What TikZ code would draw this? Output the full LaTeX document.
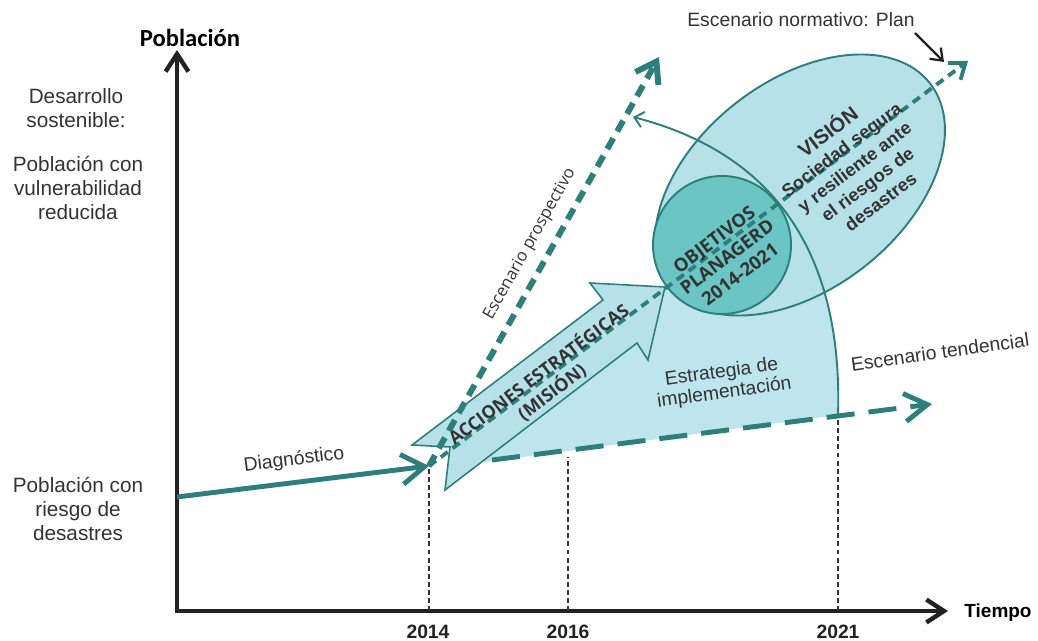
\documentclass[tikz,border=0pt]{standalone}
\usepackage{fontspec}
\setmainfont{Liberation Sans}
\newfontfamily\osans{Open Sans}
\newfontfamily\carl{Carlito}
\usetikzlibrary{arrows.meta}
\definecolor{tealline}{HTML}{2E7F7C}
\definecolor{lblue}{HTML}{B6E1E9}
\definecolor{lblueb}{HTML}{BEE5ED}
\definecolor{cteal}{HTML}{6CC5C5}
\definecolor{tgray}{HTML}{333333}
\definecolor{dgray}{HTML}{222222}
\begin{document}
\begin{tikzpicture}[x=0.02cm,y=-0.02cm,
 every node/.style={inner sep=0pt, text=tgray},
 lab/.style={font=\fontsize{11.8}{13.6}\selectfont, align=center},
 lab2/.style={font=\fontsize{11}{11.6}\selectfont, align=center},
 yearlab/.style={font=\bfseries\fontsize{11}{13}\selectfont, text=dgray},
 axisln/.style={draw=dgray, line width=2.5pt, -{Straight Barb[length=10pt,width=13pt]}},
 guide/.style={draw=tgray, line width=1.5pt, dash pattern=on 2.8pt off 1.8pt},
 diagln/.style={draw=tealline, line width=2.8pt, -{Straight Barb[length=13pt,width=17pt]}},
 prosp/.style={draw=tealline, line width=3.4pt, dash pattern=on 7pt off 4.5pt, -{Straight Barb[length=11pt,width=15pt]}},
 normln/.style={draw=tealline, line width=2.2pt, dash pattern=on 5pt off 3.4pt, -{Straight Barb[length=8pt,width=12pt]}},
 tendln/.style={draw=tealline, line width=2.8pt, dash pattern=on 16pt off 8pt, -{Straight Barb[length=13pt,width=16pt]}},
 thinarrow/.style={draw=tealline, line width=1.1pt, -{Straight Barb[length=5pt,width=9pt]}},
 blackarrow/.style={draw=dgray, line width=1.3pt, -{Straight Barb[length=6pt,width=9pt]}},
 shapeline/.style={draw=tealline, line width=1.1pt},
 arrowblock/.style={fill=lblue, draw=tealline, line width=0.9pt, line join=miter},
]
\fill[white] (0,0) rectangle (1038,641);
\useasboundingbox (0,0) rectangle (1038,641);

% coordinates
\coordinate (orig) at (177,611);
\coordinate (ytip) at (177,50);
\coordinate (xtip) at (948,611);
\coordinate (p14) at (429,466);
\coordinate (b14) at (429,611);
\coordinate (t16) at (568,457);
\coordinate (b16) at (568,611);
\coordinate (t21) at (838,416);
\coordinate (b21) at (838,611);
\coordinate (d0) at (177,497);
\coordinate (tend0) at (492,460);
\coordinate (tend1) at (932,404);
\coordinate (prosE) at (659,57);
\coordinate (normE) at (968,61);
\coordinate (curveE) at (633,117);
\coordinate (bl0) at (915,33);
\coordinate (bl1) at (944,62);

% axes
\draw[axisln] (orig) -- (ytip);
\draw[axisln] ([xshift=-1.25pt]orig) -- (xtip);

% guide lines
\draw[guide] (b14) -- (p14);
\draw[guide] (b16) -- (t16);
\draw[guide] (b21) -- (t21);

% implementation region
\fill[lblueb] (485,462) -- (838,415) .. controls (840.5,337.5) and (826,272.5) .. (792.5,222.25)
  -- (722,245) -- (650,300) -- (470,450) -- cycle;

% tendencial
\draw[tendln] (tend0) -- (tend1);

% vision ellipse and objectives circle
\draw[shapeline, fill=lblue, rotate around={38:(800,185)}] (800,185) ellipse (165 and 104);
\draw[shapeline, fill=cteal] (722,245) circle (69);

% curve arrow
\draw[thinarrow] (t21) .. controls (843,260) and (780,155) .. (curveE);

% acciones arrow
\draw[arrowblock] (412,445) -- (603,300) -- (590,283) -- (665,287) -- (648,360) -- (637,343)
  -- (445,490) -- (450,447) -- cycle;

% diagnostico
\draw[diagln] (d0) -- (p14);

% prospectivo and normativo
\draw[prosp] (p14) -- (prosE);
\draw[normln] (p14) -- (normE);

% black arrow
\draw[blackarrow] (bl0) -- (bl1);

% texts
\node[font=\carl\bfseries\fontsize{14}{16}\selectfont, text=black] (pob) at (190,38) {Población};
\node[font=\bfseries\fontsize{10.8}{13}\selectfont, text=black] (tiempo) at (998,613) {Tiempo};
\node[yearlab] (y14) at (428,632) {2014};
\node[yearlab] (y16) at (568,632) {2016};
\node[yearlab] (y21) at (838,632) {2021};

\node[lab] (desa) at (76,108) {Desarrollo\\sostenible:};
\node[lab] (vuln) at (78,188) {Población con\\vulnerabilidad\\reducida};
\node[lab] (riesgo) at (78,509) {Población con\\riesgo de\\desastres};

\node[lab2, rotate=7] (diag) at (294,460) {Diagnóstico};
\node[lab2, rotate=8] (estr) at (723,383) {Estrategia de\\implementación};
\node[lab2, rotate=8] (tendl) at (940,352) {Escenario tendencial};
\node[lab2] (normt) at (801,20) {Escenario normativo: Plan};
\node[font=\osans\fontsize{9.5}{11}\selectfont, rotate=60.6] (pros) at (530,244) {Escenario prospectivo};

\node[font=\osans\bfseries\fontsize{10.2}{12.5}\selectfont, align=center, rotate=37] (acc) at (545,383) {ACCIONES ESTRATÉGICAS\\(MISIÓN)};
\node[font=\osans\bfseries\fontsize{10.5}{12.3}\selectfont, align=center, rotate=37] (obj) at (727,257) {OBJETIVOS\\PLANAGERD\\2014-2021};
\node[font=\bfseries\fontsize{10.3}{12.3}\selectfont, align=center, rotate=37] (vis) at (853,165) {{\fontsize{11.5}{12.3}\selectfont VISIÓN}\\Sociedad segura\\y resiliente ante\\el riesgos de\\desastres};
\end{tikzpicture}
\end{document}
